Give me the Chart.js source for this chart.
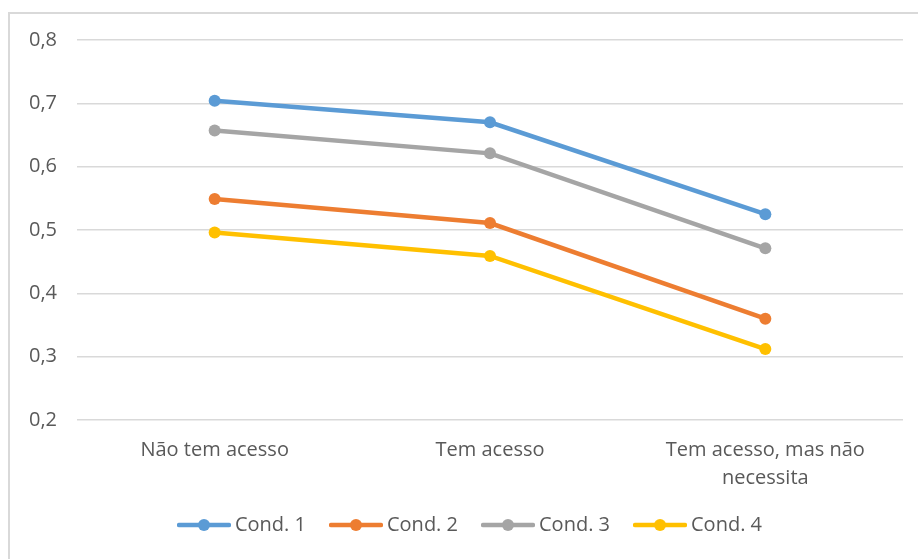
<!DOCTYPE html>
<html>
<head>
<meta charset="utf-8">
<script src="https://cdn.jsdelivr.net/npm/chart.js@4.4.1/dist/chart.umd.min.js"></script>
<style>
  html, body { margin: 0; padding: 0; background: #ffffff; }
  #wrap { position: relative; width: 918px; height: 559px; overflow: hidden; }
  #frame { position: absolute; left: 8px; top: 12px; width: 940px; height: 600px;
           border: 2px solid #d9d9d9; pointer-events: none; box-sizing: border-box; }
</style>
</head>
<body>
<div id="wrap">
  <canvas id="chart" width="918" height="559"></canvas>
  <div id="frame"></div>
</div>
<script>
// Categories on the x axis (multi-line label given as an array of lines)
const categories = ['Não tem acesso', 'Tem acesso', ['Tem acesso, mas não', 'necessita']];

// Series names and values
const seriesNames = ['Cond. 1', 'Cond. 2', 'Cond. 3', 'Cond. 4'];
const cond1 = [0.704, 0.670, 0.525];
const cond2 = [0.549, 0.511, 0.360];
const cond3 = [0.657, 0.621, 0.471];
const cond4 = [0.496, 0.459, 0.312];

// Y axis tick values
const yTicks = [0.2, 0.3, 0.4, 0.5, 0.6, 0.7, 0.8];

const colors = ['#5B9BD5', '#ED7D31', '#A5A5A5', '#FFC000'];
const FONT = "'Open Sans', 'Liberation Sans', sans-serif";
const TEXT = '#595959';

// Legend swatch: a short line with a round marker in its middle
function swatch(color) {
  const c = document.createElement('canvas');
  c.width = 54; c.height = 14;
  const g = c.getContext('2d');
  g.strokeStyle = color; g.lineWidth = 4.5; g.lineCap = 'round';
  g.beginPath(); g.moveTo(2, 7); g.lineTo(52, 7); g.stroke();
  g.fillStyle = color;
  g.beginPath(); g.arc(27, 7, 6, 0, Math.PI * 2); g.fill();
  return c;
}
const swatches = colors.map(swatch);

const seriesValues = [cond1, cond2, cond3, cond4];
const datasets = seriesNames.map((name, i) => ({
  label: name,
  data: seriesValues[i],
  borderColor: colors[i],
  backgroundColor: colors[i],
  borderWidth: 4.5,
  pointRadius: 6,
  pointBorderWidth: 0,
  pointBackgroundColor: colors[i],
  tension: 0
}));

// Nudges the legend row horizontally
const legendOffset = {
  id: 'legendOffset',
  afterLayout(chart) {
    const lg = chart.legend;
    const dx = 21;
    lg.left += dx; lg.right += dx;
  }
};

new Chart(document.getElementById('chart'), {
  type: 'line',
  data: { labels: categories, datasets },
  plugins: [legendOffset],
  options: {
    responsive: false,
    animation: false,
    events: [],
    layout: { padding: { top: 40, right: 15, bottom: 14, left: 0 } },
    scales: {
      x: {
        offset: true,
        grid: { display: false, drawTicks: false },
        border: { display: false },
        ticks: {
          color: TEXT, padding: 16, maxRotation: 0, autoSkip: false,
          font: { family: FONT, size: 20, lineHeight: 1.4 }
        },
        afterFit(scale) { scale.height = 66; }
      },
      y: {
        min: 0.2, max: 0.8,
        afterBuildTicks(scale) { scale.ticks = yTicks.map(v => ({ value: v })); },
        grid: { color: '#d9d9d9', lineWidth: 1.5, drawTicks: false },
        border: { display: false },
        ticks: {
          color: TEXT, padding: 20,
          font: { family: FONT, size: 20 },
          callback: v => v.toFixed(1).replace('.', ',')
        },
        afterFit(scale) { scale.width = 77; }
      }
    },
    plugins: {
      tooltip: { enabled: false },
      legend: {
        position: 'bottom',
        labels: {
          color: TEXT,
          font: { family: FONT, size: 20 },
          usePointStyle: true,
          pointStyleWidth: 42,
          padding: 29,
          generateLabels(chart) {
            const items = Chart.defaults.plugins.legend.labels.generateLabels(chart);
            items.forEach((it, i) => { it.pointStyle = swatches[i]; });
            return items;
          }
        }
      }
    }
  }
});
</script>
</body>
</html>
